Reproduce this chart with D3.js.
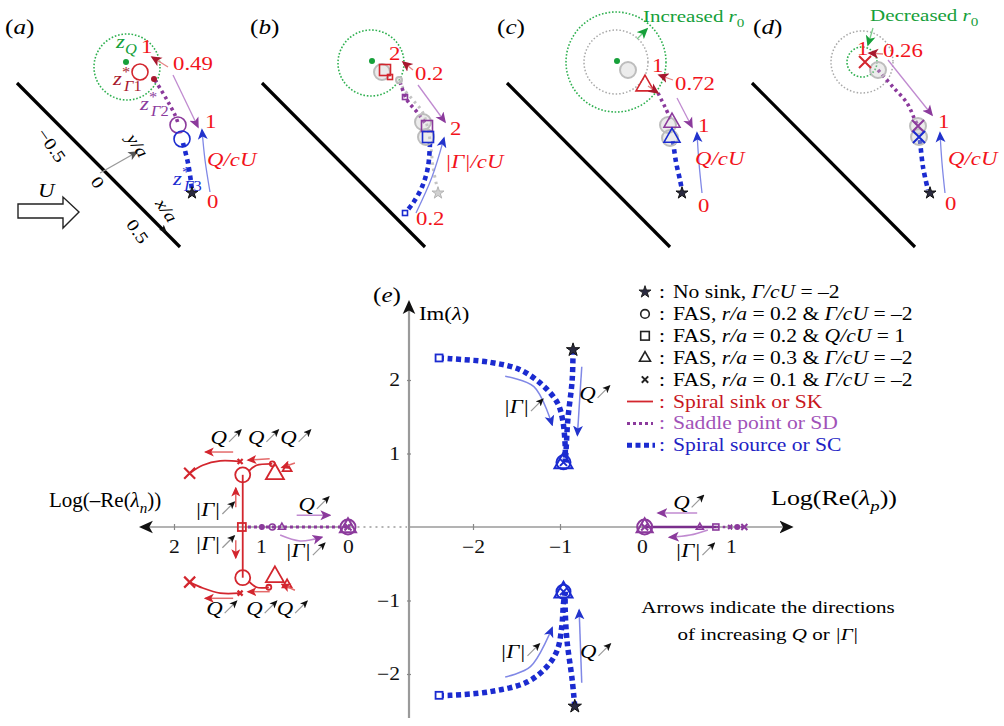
<!DOCTYPE html>
<html>
<head>
<meta charset="utf-8">
<script src="https://cdn.jsdelivr.net/npm/d3@7"></script>
<style>
body { margin: 0; background: #fff; }
svg text { font-family: "Liberation Serif", "Times New Roman", serif; }
</style>
</head>
<body>
<svg id="fig" width="1004" height="726"></svg>
<script>
// colours
const RED = "#f2131b", SK = "#d3262e", DRED = "#a8182e";
const PURP = "#8b3a9c", LPURP = "#c08ad0";
const BLUE = "#1b2bd0", LBLUE = "#8088e6";
const GREEN = "#16a03a", GRAY = "#b4b4b4";
const SX = 1.2; // the printed type is a little wider than plain Times

// ================= top panels (a)-(d), units of the wall frame =================
const PANEL_DX = 245;
const wall = [[-0.82, 0.82], [0.81, -0.82]];
const r0Center = [[0.28, 0.98], [0.27, 1.02], [0.27, 1.03], [0.28, 1.03]];
const r0Green = [0.33, 0.33, 0.50, 0.15];
const r0Gray = [null, null, 0.32, 0.31];
const sdPaths = [
  [[0.56, 0.85], [0.68, 0.65], [0.76, 0.50], [0.79, 0.42]],
  [[0.56, 0.83], [0.63, 0.65], [0.73, 0.53], [0.81, 0.42]],
  [[0.69, 0.72], [0.76, 0.58], [0.83, 0.43]],
  [[0.44, 0.95], [0.59, 0.78], [0.73, 0.62], [0.81, 0.45], [0.84, 0.39]]
];
const scPaths = [
  [[0.84, 0.22], [0.89, 0.02], [0.92, -0.17], [0.93, -0.25]],
  [[0.86, 0.22], [0.84, -0.02], [0.78, -0.22], [0.69, -0.38], [0.62, -0.47]],
  [[0.84, 0.24], [0.87, 0.03], [0.91, -0.15], [0.93, -0.25]],
  [[0.86, 0.25], [0.89, -0.02], [0.94, -0.25]]
];
const ghostPaths = [
  null,
  [[0.56, 0.85], [0.59, 0.77], [0.69, 0.65], [0.79, 0.52], [0.86, 0.25], [0.89, -0.02], [0.93, -0.22]],
  null, null
];
const skArrows = [
  [[0.69, 0.98], [0.53, 1.08]],
  [[0.69, 0.95], [0.59, 1.03]],
  [[0.84, 0.85], [0.70, 0.90]],
  [[0.49, 1.11], [0.35, 1.12]]
];
const sdArrows = [
  [[0.74, 0.90], [0.99, 0.38]],
  [[0.74, 0.80], [1.01, 0.43]],
  [[0.88, 0.67], [1.03, 0.38]],
  [[0.54, 1.05], [0.98, 0.50]]
];
const qArrows = [
  [[1.11, -0.27], [1.06, 0.05], [1.03, 0.35]],
  [[0.72, -0.48], [0.88, -0.12], [1.00, 0.27]],
  [[1.13, -0.28], [1.10, 0.02], [1.08, 0.32]],
  [[1.11, -0.28], [1.08, 0.02], [1.06, 0.32]]
];
const r0Arrows = [null, null, [[0.48, 1.26], [0.58, 1.36]], [[0.39, 1.37], [0.34, 1.20]]];
const extraArrows = [null, null, [[0.59, 0.79], [0.69, 0.72]], null];

const panelMarks = [
  [
    { s: "dot", p: [0.27, 1.03], c: GREEN },
    { s: "circle", p: [0.41, 0.93], c: SK, r: 8 },
    { s: "dot", p: [0.55, 0.86], c: DRED },
    { s: "circle", p: [0.79, 0.40], c: PURP, r: 8 },
    { s: "circle", p: [0.83, 0.26], c: BLUE, r: 8 },
    { s: "star", p: [0.93, -0.28], c: "#111" }
  ],
  [
    { s: "dot", p: [0.28, 1.04], c: GREEN },
    { s: "ghost", p: [0.38, 0.93], r: 8 },
    { s: "ghost", p: [0.55, 0.85], r: 3 },
    { s: "ghost", p: [0.79, 0.43], r: 8 },
    { s: "ghost", p: [0.82, 0.28], r: 8 },
    { s: "square", p: [0.41, 0.95], c: SK, r: 5.5 },
    { s: "square", p: [0.46, 0.88], c: SK, r: 2.5 },
    { s: "square", p: [0.61, 0.68], c: PURP, r: 2.5 },
    { s: "square", p: [0.83, 0.39], c: PURP, r: 5.5 },
    { s: "square", p: [0.84, 0.28], c: BLUE, r: 5.5 },
    { s: "square", p: [0.61, -0.48], c: BLUE, r: 2.5 },
    { s: "star", p: [0.94, -0.28], c: GRAY }
  ],
  [
    { s: "dot", p: [0.28, 1.04], c: GREEN },
    { s: "ghost", p: [0.39, 0.95], r: 8 },
    { s: "ghost", p: [0.79, 0.40], r: 8 },
    { s: "ghost", p: [0.81, 0.27], r: 8 },
    { s: "tri", p: [0.56, 0.80], c: SK, r: 9 },
    { s: "tri", p: [0.83, 0.43], c: PURP, r: 8 },
    { s: "tri", p: [0.83, 0.28], c: BLUE, r: 8 },
    { s: "star", p: [0.93, -0.28], c: "#111" }
  ],
  [
    { s: "ghost", p: [0.44, 0.95], r: 8 },
    { s: "ghost", p: [0.84, 0.39], r: 8 },
    { s: "ghost", p: [0.85, 0.28], r: 8 },
    { s: "x", p: [0.31, 1.03], c: SK, r: 6 },
    { s: "x", p: [0.84, 0.39], c: PURP, r: 6 },
    { s: "x", p: [0.85, 0.28], c: BLUE, r: 6 },
    { s: "star", p: [0.96, -0.28], c: "#111" }
  ]
];

const zSup = sub => [["z", "i"], ["*", "sup"], ["Γ", "isub", -5], [sub, "sub"]];
const panelLabels = [
  [
    { p: [-0.94, 1.31], t: [["("], ["a", "i"], [")"]], c: "#000", fs: 21 },
    { p: [0.17, 1.17], t: [["z", "i"], ["Q", "isub"]], c: GREEN, fs: 19 },
    { p: [0.42, 1.12], t: [["1"]], c: RED, fs: 19 },
    { p: [0.74, 0.95], t: [["0.49"]], c: RED, fs: 19 },
    { p: [0.14, 0.80], t: zSup("1"), c: DRED, fs: 19 },
    { p: [0.41, 0.55], t: zSup("2"), c: PURP, fs: 19 },
    { p: [1.06, 0.37], t: [["1"]], c: RED, fs: 19 },
    { p: [1.08, -0.01], t: [["Q/cU", "i"]], c: RED, fs: 19 },
    { p: [0.74, -0.20], t: zSup("3"), c: BLUE, fs: 19 },
    { p: [1.08, -0.43], t: [["0"]], c: RED, fs: 19 },
    { p: [-0.61, -0.32], t: [["U", "i"]], c: "#000", fs: 19 }
  ],
  [
    { p: [-0.94, 1.31], t: [["("], ["b", "i"], [")"]], c: "#000", fs: 21 },
    { p: [0.45, 1.05], t: [["2"]], c: RED, fs: 19 },
    { p: [0.71, 0.85], t: [["0.2"]], c: RED, fs: 19 },
    { p: [1.06, 0.30], t: [["2"]], c: RED, fs: 19 },
    { p: [1.01, -0.03], t: [["|Γ|/cU", "i"]], c: RED, fs: 19 },
    { p: [0.72, -0.60], t: [["0.2"]], c: RED, fs: 19 }
  ],
  [
    { p: [-0.92, 1.31], t: [["("], ["c", "i"], [")"]], c: "#000", fs: 21 },
    { p: [0.54, 1.43], t: [["Increased "], ["r", "i"], ["0", "sub"]], c: GREEN, fs: 17.5 },
    { p: [0.63, 0.93], t: [["1"]], c: RED, fs: 19 },
    { p: [0.86, 0.75], t: [["0.72"]], c: RED, fs: 19 },
    { p: [1.09, 0.33], t: [["1"]], c: RED, fs: 19 },
    { p: [1.06, 0.00], t: [["Q/cU", "i"]], c: RED, fs: 19 },
    { p: [1.09, -0.47], t: [["0"]], c: RED, fs: 19 }
  ],
  [
    { p: [-0.81, 1.31], t: [["("], ["d", "i"], [")"]], c: "#000", fs: 21 },
    { p: [0.36, 1.44], t: [["Decreased "], ["r", "i"], ["0", "sub"]], c: GREEN, fs: 17.5 },
    { p: [0.23, 1.10], t: [["1"]], c: RED, fs: 19 },
    { p: [0.49, 1.08], t: [["0.26"]], c: RED, fs: 19 },
    { p: [1.04, 0.37], t: [["1"]], c: RED, fs: 19 },
    { p: [1.14, 0.00], t: [["Q/cU", "i"]], c: RED, fs: 19 },
    { p: [1.11, -0.45], t: [["0"]], c: RED, fs: 19 }
  ]
];
// wall coordinate labels of panel (a), rotated along the wall
const wallLabels = [
  { p: [-0.47, 0.20], t: [["−0.5"]] }, { p: [-0.01, -0.17], t: [["0"]] }, { p: [0.39, -0.66], t: [["0.5"]] },
  { p: [0.39, 0.20], t: [["y/a", "i"]] }, { p: [0.68, -0.45], t: [["x/a", "i"]] }
];
const yArrow = [[0.01, -0.08], [0.38, 0.13]];
const xArrow = [[0.51, -0.51], [0.67, -0.67]];
const flowArrow = [[-0.81, -0.39], [-0.36, -0.39], [-0.36, -0.32], [-0.20, -0.47], [-0.36, -0.63], [-0.36, -0.53], [-0.81, -0.53]];

// ================= panel (e): eigenvalues =================
// spiral source, [Re λ, Im λ]
const scGammaUp = [[-2.39, 2.30], [-2.26, 2.29], [-1.80, 2.24], [-1.46, 2.14], [-1.20, 1.93], [-1.03, 1.69], [-0.97, 1.46], [-0.94, 1.09], [-0.94, 0.88]];
const scGammaDn = [[-2.39, -2.29], [-2.26, -2.29], [-1.80, -2.24], [-1.38, -2.11], [-1.15, -1.90], [-1.03, -1.67], [-0.98, -1.36], [-0.96, -1.04], [-0.94, -0.88]];
const scQUp = [[-0.85, 2.41], [-0.86, 2.00], [-0.91, 1.46], [-0.93, 1.05], [-0.94, 0.88]];
const scQDn = [[-0.83, -2.44], [-0.86, -2.08], [-0.92, -1.54], [-0.94, -1.13], [-0.94, -0.88]];
const scCluster = [[-0.96, 0.88], [-0.96, -0.88]];
const scArrows = [
  [[-1.63, 2.05], [-1.30, 1.91], [-1.09, 1.39]],
  [[-0.75, 2.18], [-0.80, 1.25]],
  [[-1.63, -2.04], [-1.34, -1.90], [-1.09, -1.37]],
  [[-0.75, -2.12], [-0.78, -1.13]]
];
const scQLabels = [[-0.78, 1.73], [-0.77, -1.78]];
const scGLabels = [[-1.65, 1.55], [-1.69, -1.78]];

// spiral sink, [Log(-Re λn), Im λ]
const skStem = [[1.21, 0.71], [1.21, -0.69]];
const skXUp = [[1.82, 0.73], [1.67, 0.84], [1.47, 0.90], [1.24, 0.89]];
const skXDn = [[1.82, -0.75], [1.67, -0.83], [1.47, -0.90], [1.24, -0.90]];
const skTriUp = [[1.14, 0.76], [1.05, 0.84], [0.87, 0.86]];
const skTriDn = [[1.14, -0.74], [1.05, -0.82], [0.91, -0.82]];
const skMarksE = [
  { s: "x", p: [1.82, 0.73], r: 5.5 }, { s: "x", p: [1.82, -0.75], r: 5.5 },
  { s: "x", p: [1.24, 0.89], r: 2.5 }, { s: "x", p: [1.24, -0.90], r: 2.5 },
  { s: "circle", p: [1.21, 0.71], r: 7.5 }, { s: "circle", p: [1.21, -0.69], r: 7.5 },
  { s: "circle", p: [0.87, 0.86], r: 2.5 }, { s: "circle", p: [0.91, -0.82], r: 2.5 },
  { s: "tri", p: [0.84, 0.73], r: 9 }, { s: "tri", p: [0.84, -0.67], r: 9 },
  { s: "tri", p: [0.70, 0.80], r: 4.5 }, { s: "tri", p: [0.70, -0.78], r: 4.5 },
  { s: "square", p: [1.22, 0], r: 4 }
];
const skArrowsE = [
  [[1.32, 1.02], [1.64, 1.02]], [[0.90, 0.93], [1.15, 0.91]], [[0.61, 0.87], [0.76, 0.81]],
  [[1.32, -0.97], [1.64, -0.97]], [[0.90, -0.88], [1.15, -0.88]], [[0.61, -0.86], [0.76, -0.78]],
  [[1.29, 0.27], [1.29, 0.53]], [[1.29, -0.18], [1.29, -0.42]]
];
const skQLabels = [[1.58, 1.13], [1.15, 1.13], [0.78, 1.13], [1.63, -1.20], [1.17, -1.20], [0.82, -1.20]];
const skGLabels = [[1.76, 0.15], [1.76, -0.31]];

// saddle point, left [Log(-Re λn), 0] and right [Log(Re λp), 0]
const sdLeft = [[1.15, 0], [0.0, 0]];
const sdLeftMarks = [{ s: "dot", p: [0.99, 0] }, { s: "circle", p: [0.87, 0], r: 3 }, { s: "tri", p: [0.76, 0], r: 3.5 }];
const sdLeftArrows = [[[0.59, 0.16], [0.21, 0.16]], [[0.78, -0.11], [0.55, -0.19], [0.30, -0.14]]];
const sdRightSolid = [[0.03, 0], [0.84, 0]];
const sdRightDot = [[0.84, 0], [1.15, 0]];
const sdRightMarks = [{ s: "tri", p: [0.65, 0], r: 3.5 }, { s: "square", p: [0.83, 0], r: 3 }, { s: "x", p: [0.99, 0], r: 2 }, { s: "dot", p: [1.07, 0] }, { s: "x", p: [1.15, 0], r: 3 }];
const sdRightArrows = [[[0.62, 0.19], [0.18, 0.19]], [[0.74, -0.04], [0.54, -0.11], [0.31, -0.14]]];
const sdCluster = { left: [0, 0], right: [0.03, 0] };
const sdQLabels = { left: [0.57, 0.22], right: [0.35, 0.24] };
const sdGLabels = { left: [0.72, -0.41], right: [0.37, -0.41] };

// legend
const legendItems = [
  { s: "star", t: [["No sink, "], ["Γ/cU", "i"], [" = –2"]] },
  { s: "circle", t: [["FAS, "], ["r/a", "i"], [" = 0.2 & "], ["Γ/cU", "i"], [" = –2"]] },
  { s: "square", t: [["FAS, "], ["r/a", "i"], [" = 0.2 & "], ["Q/cU", "i"], [" = 1"]] },
  { s: "tri", t: [["FAS, "], ["r/a", "i"], [" = 0.3 & "], ["Γ/cU", "i"], [" = –2"]] },
  { s: "x", t: [["FAS, "], ["r/a", "i"], [" = 0.1 & "], ["Γ/cU", "i"], [" = –2"]] },
  { s: "lineSK", t: [["Spiral sink or SK"]], c: "#c8161e" },
  { s: "lineSD", t: [["Saddle point or SD"]], c: "#a152b8" },
  { s: "lineSC", t: [["Spiral source or SC"]], c: "#2222c4" }
];

// ================= drawing helpers =================
const svg = d3.select("#fig");
const defs = svg.append("defs");
function headMarker(id, color, size) {
  defs.append("marker").attr("id", id).attr("viewBox", "0 0 10 10")
    .attr("refX", 8.5).attr("refY", 5).attr("markerWidth", size).attr("markerHeight", size)
    .attr("markerUnits", "userSpaceOnUse").attr("orient", "auto")
    .append("path").attr("d", "M0,0.5 L10,5 L0,9.5 L2.5,5 Z").attr("fill", color);
}
headMarker("hDred", DRED, 11);
headMarker("hPurp", PURP, 11);
headMarker("hBlue", "#2233cc", 11);
headMarker("hGreen", GREEN, 11);
headMarker("hRed", SK, 10);
headMarker("hBlack", "#111", 14);
headMarker("hSmall", "#111", 8);
headMarker("hGray", "#555", 10);

// text drawn at the origin, then moved and widened
function rich(g, x, y, parts, o = {}) {
  const fs = o.fs || 18;
  const t = g.append("text").attr("x", 0).attr("y", 0)
    .attr("transform", `translate(${x},${y})${o.rot ? ` rotate(${o.rot})` : ""} scale(${o.sx || SX},1)`)
    .attr("font-size", fs).attr("fill", o.c || "#000")
    .attr("text-anchor", o.anchor || "start");
  if (o.central) t.attr("dominant-baseline", "central");
  let off = 0;
  parts.forEach(p => {
    const [s, st = "", dx = 0] = p;
    const sp = t.append("tspan").text(s);
    let target = 0;
    if (st.includes("sub")) target = 0.3 * fs;
    if (st.includes("sup")) target = -0.42 * fs;
    if (target !== off) { sp.attr("dy", target - off); off = target; }
    if (target !== 0) sp.attr("font-size", fs * 0.72);
    if (st.startsWith("i")) sp.attr("font-style", "italic");
    if (dx) sp.attr("dx", dx);
  });
  return t;
}

function mark(g, s, x, y, c, o = {}) {
  const r = o.r || 6, sw = o.sw || 1.6;
  if (s === "dot") return g.append("circle").attr("cx", x).attr("cy", y).attr("r", o.r || 3).attr("fill", c);
  if (s === "ghost") return g.append("circle").attr("cx", x).attr("cy", y).attr("r", r)
    .attr("fill", "rgba(200,200,200,0.35)").attr("stroke", "#bdbdbd").attr("stroke-width", 2);
  if (s === "circle") return g.append("circle").attr("cx", x).attr("cy", y).attr("r", r)
    .attr("fill", o.fill || "none").attr("stroke", c).attr("stroke-width", sw);
  if (s === "square") return g.append("rect").attr("x", x - r).attr("y", y - r).attr("width", 2 * r).attr("height", 2 * r)
    .attr("fill", o.fill || "none").attr("stroke", c).attr("stroke-width", sw);
  if (s === "tri") return g.append("path").attr("d", `M${x},${y - r * 1.1}L${x + r},${y + r * 0.65}L${x - r},${y + r * 0.65}Z`)
    .attr("fill", "none").attr("stroke", c).attr("stroke-width", sw);
  if (s === "x") return g.append("path").attr("d", `M${x - r},${y - r}L${x + r},${y + r}M${x - r},${y + r}L${x + r},${y - r}`)
    .attr("stroke", c).attr("stroke-width", sw + 0.4);
  if (s === "star") return g.append("path").attr("d", d3.symbol(d3.symbolStar, o.size || 45)())
    .attr("transform", `translate(${x},${y})`).attr("fill", c === GRAY ? "#d0d0d0" : "#2a2a40")
    .attr("stroke", c).attr("stroke-width", 1);
}

function incLabel(g, x, y, txt, fs = 19) {
  const t = rich(g, x, y, [[txt, "i"]], { fs });
  const w = t.node().getComputedTextLength() * SX;
  g.append("line").attr("x1", x + w + 2).attr("y1", y - 2).attr("x2", x + w + 14).attr("y2", y - 14)
    .attr("stroke", "#999").attr("stroke-width", 1.2).attr("marker-end", "url(#hSmall)");
}

// ================= panels (a)-(d) =================
panelMarks.forEach((marks, i) => {
  const ox = 99 + PANEL_DX * i;
  const sx = d3.scaleLinear().domain([0, 1]).range([ox, ox + 100]);
  const sy = d3.scaleLinear().domain([0, 1]).range([165, 65]);
  const line = d3.line().x(d => sx(d[0])).y(d => sy(d[1])).curve(d3.curveCatmullRom.alpha(0.5));
  const g = svg.append("g").attr("class", "panel");
  const unit = sx(1) - sx(0);

  g.append("path").attr("d", line(wall)).attr("stroke", "#000").attr("stroke-width", 3.2).attr("fill", "none");

  const c0 = r0Center[i];
  if (r0Gray[i]) g.append("circle").attr("cx", sx(c0[0])).attr("cy", sy(c0[1])).attr("r", r0Gray[i] * unit)
    .attr("fill", "none").attr("stroke", "#a8a8a8").attr("stroke-width", 1.5).attr("stroke-dasharray", "1.5,2");
  g.append("circle").attr("cx", sx(c0[0])).attr("cy", sy(c0[1])).attr("r", r0Green[i] * unit)
    .attr("fill", "none").attr("stroke", "#2fb050").attr("stroke-width", 1.6).attr("stroke-dasharray", "1.6,1.8");

  if (ghostPaths[i]) g.append("path").attr("d", line(ghostPaths[i])).attr("fill", "none")
    .attr("stroke", "#c4c4c4").attr("stroke-width", 3).attr("stroke-dasharray", "2.5,4");

  g.append("path").attr("d", line(sdPaths[i])).attr("fill", "none")
    .attr("stroke", PURP).attr("stroke-width", 3.6).attr("stroke-dasharray", "3,3.4");
  g.append("path").attr("d", line(scPaths[i])).attr("fill", "none")
    .attr("stroke", BLUE).attr("stroke-width", 4.6).attr("stroke-dasharray", "4.5,3.8");

  marks.forEach(m => mark(g, m.s, sx(m.p[0]), sy(m.p[1]), m.c, { r: m.r }));

  g.append("path").attr("d", line(skArrows[i])).attr("fill", "none").attr("stroke", "#e58585")
    .attr("stroke-width", 1.3).attr("marker-end", "url(#hDred)");
  g.append("path").attr("d", line(sdArrows[i])).attr("fill", "none").attr("stroke", LPURP)
    .attr("stroke-width", 1.3).attr("marker-end", "url(#hPurp)");
  g.append("path").attr("d", line(qArrows[i])).attr("fill", "none").attr("stroke", LBLUE)
    .attr("stroke-width", 1.3).attr("marker-end", "url(#hBlue)");
  if (r0Arrows[i]) g.append("path").attr("d", line(r0Arrows[i])).attr("fill", "none").attr("stroke", "#7acb8a")
    .attr("stroke-width", 1.3).attr("marker-end", "url(#hGreen)");
  if (extraArrows[i]) g.append("path").attr("d", line(extraArrows[i])).attr("fill", "none").attr("stroke", "#e58585")
    .attr("stroke-width", 1.3).attr("marker-end", "url(#hDred)");

  panelLabels[i].forEach(l => rich(g, sx(l.p[0]), sy(l.p[1]), l.t, { c: l.c, fs: l.fs }));

  if (i === 0) {
    g.append("path").attr("d", d3.line().x(d => sx(d[0])).y(d => sy(d[1])).curve(d3.curveLinearClosed)(flowArrow))
      .attr("fill", "#fff").attr("stroke", "#222").attr("stroke-width", 1.4);
    g.append("path").attr("d", line(yArrow)).attr("stroke", "#999").attr("stroke-width", 1.3).attr("marker-end", "url(#hGray)");
    g.append("path").attr("d", line(xArrow)).attr("stroke", "#000").attr("stroke-width", 1).attr("marker-end", "url(#hSmall)");
    wallLabels.forEach(l => rich(g, sx(l.p[0]), sy(l.p[1]), l.t,
      { fs: 17, anchor: "middle", central: true, rot: 55 }));
  }
});

// ================= panel (e) =================
const xL = d3.scaleLinear().domain([0, 2]).range([348, 174]);   // Log(-Re λn)
const xM = d3.scaleLinear().domain([-2, -1]).range([473, 560]); // Re λ
const xR = d3.scaleLinear().domain([0, 1]).range([642, 731]);   // Log(Re λp)
const yI = d3.scaleLinear().domain([-2, 2]).range([674, 380]);  // Im λ
const lineFor = xs => d3.line().x(d => xs(d[0])).y(d => yI(d[1])).curve(d3.curveCatmullRom.alpha(0.5));
const lM = lineFor(xM), lL = lineFor(xL), lR = lineFor(xR);
const ge = svg.append("g").attr("class", "panel-e");

// axes
const y0 = yI(0);
ge.append("line").attr("x1", xL(-0.04)).attr("y1", y0).attr("x2", xL(2.38)).attr("y2", y0)
  .attr("stroke", "#9a9a9a").attr("stroke-width", 1.6).attr("marker-end", "url(#hBlack)");
ge.append("line").attr("x1", xL(-0.04)).attr("y1", y0).attr("x2", 407).attr("y2", y0)
  .attr("stroke", "#9a9a9a").attr("stroke-width", 1.6).attr("stroke-dasharray", "2,4");
ge.append("line").attr("x1", 409).attr("y1", y0).attr("x2", xR(1.68)).attr("y2", y0)
  .attr("stroke", "#9a9a9a").attr("stroke-width", 1.6).attr("marker-end", "url(#hBlack)");
ge.append("line").attr("x1", 409).attr("y1", yI(-2.6)).attr("x2", 409).attr("y2", yI(3.06))
  .attr("stroke", "#9a9a9a").attr("stroke-width", 2.2).attr("marker-end", "url(#hBlack)");

function styleAxis(g, vertical) {
  g.select(".domain").remove();
  g.selectAll(".tick line").attr("stroke", "#888").attr("stroke-width", 1.2);
  if (vertical) g.selectAll(".tick line").attr("x1", -2).attr("x2", 2);
  else g.selectAll(".tick line").attr("y1", -3).attr("y2", 3);
  g.selectAll("text").attr("font-size", 18).attr("fill", "#111")
    .attr("font-family", '"Liberation Serif","Times New Roman",serif');
  g.selectAll(".tick text").each(function () {
    const t = d3.select(this);
    const x = +t.attr("x") || 0, y = +t.attr("y") || 0;
    t.attr("x", 0).attr("y", 0).attr("transform", `translate(${x},${y}) scale(${SX},1)`);
  });
}
[[xL, [0, 1, 2]], [xM, [-2, -1]], [xR, [0, 1]]].forEach(([sc, tv]) => {
  ge.append("g").attr("transform", `translate(0,${y0})`)
    .call(d3.axisBottom(sc).tickValues(tv).tickSize(3).tickPadding(10).tickFormat(d3.format("d")))
    .call(g => styleAxis(g, false));
});
ge.append("g").attr("transform", "translate(409,0)")
  .call(d3.axisLeft(yI).tickValues([-2, -1, 1, 2]).tickSize(3).tickPadding(6).tickFormat(d3.format("d")))
  .call(g => styleAxis(g, true));

rich(ge, 419, 320, [["Im("], ["λ", "i"], [")"]], { fs: 19 });
rich(ge, 49, 507, [["Log(–Re("], ["λ", "i"], ["n", "isub"], ["))"]], { fs: 20, sx: 1.05 });
rich(ge, 771, 505, [["Log(Re("], ["λ", "i"], ["p", "isub"], ["))"]], { fs: 20, sx: 1.3 });
rich(ge, 373, 302, [["("], ["e", "i"], [")"]], { fs: 21 });

// saddle point (purple)
ge.append("path").attr("d", lL(sdLeft)).attr("fill", "none").attr("stroke", PURP)
  .attr("stroke-width", 3).attr("stroke-dasharray", "3,3");
sdLeftMarks.forEach(m => mark(ge, m.s, xL(m.p[0]), yI(m.p[1]), PURP, { r: m.r }));
ge.append("path").attr("d", lR(sdRightSolid)).attr("fill", "none").attr("stroke", "#7a2f8c").attr("stroke-width", 2.6);
ge.append("path").attr("d", lR(sdRightDot)).attr("fill", "none").attr("stroke", PURP)
  .attr("stroke-width", 2.4).attr("stroke-dasharray", "2.5,3.5");
sdRightMarks.forEach(m => mark(ge, m.s, xR(m.p[0]), yI(m.p[1]), PURP, { r: m.r }));
[[xL, sdCluster.left], [xR, sdCluster.right]].forEach(([xs, p]) => {
  mark(ge, "circle", xs(p[0]), yI(p[1]), PURP, { r: 7.5, sw: 2 });
  mark(ge, "tri", xs(p[0]), yI(p[1]), PURP, { r: 8, sw: 2 });
  mark(ge, "x", xs(p[0]), yI(p[1]), PURP, { r: 3.5, sw: 1.6 });
});
sdLeftArrows.forEach(a => ge.append("path").attr("d", lL(a)).attr("fill", "none").attr("stroke", LPURP)
  .attr("stroke-width", 1.6).attr("marker-end", "url(#hPurp)"));
sdRightArrows.forEach(a => ge.append("path").attr("d", lR(a)).attr("fill", "none").attr("stroke", LPURP)
  .attr("stroke-width", 1.6).attr("marker-end", "url(#hPurp)"));
incLabel(ge, xL(sdQLabels.left[0]), yI(sdQLabels.left[1]), "Q");
incLabel(ge, xL(sdGLabels.left[0]), yI(sdGLabels.left[1]), "|Γ|");
incLabel(ge, xR(sdQLabels.right[0]), yI(sdQLabels.right[1]), "Q");
incLabel(ge, xR(sdGLabels.right[0]), yI(sdGLabels.right[1]), "|Γ|");

// spiral sink (red)
[skStem, skXUp, skXDn, skTriUp, skTriDn].forEach(d => ge.append("path").attr("d", lL(d))
  .attr("fill", "none").attr("stroke", SK).attr("stroke-width", 1.8));
skMarksE.forEach(m => mark(ge, m.s, xL(m.p[0]), yI(m.p[1]), SK, { r: m.r, sw: 1.8 }));
skArrowsE.forEach(a => ge.append("path").attr("d", lL(a)).attr("fill", "none").attr("stroke", "#e46a6a")
  .attr("stroke-width", 1.5).attr("marker-end", "url(#hRed)"));
skQLabels.forEach(p => incLabel(ge, xL(p[0]), yI(p[1]), "Q"));
skGLabels.forEach(p => incLabel(ge, xL(p[0]), yI(p[1]), "|Γ|"));

// spiral source (blue)
[scGammaUp, scGammaDn, scQUp, scQDn].forEach(d => ge.append("path").attr("d", lM(d))
  .attr("fill", "none").attr("stroke", BLUE).attr("stroke-width", 5.5).attr("stroke-dasharray", "5,3.6"));
[scGammaUp[0], scGammaDn[0]].forEach(p => mark(ge, "square", xM(p[0]), yI(p[1]), BLUE, { r: 3.5, sw: 1.8, fill: "#fff" }));
[scQUp[0], scQDn[0]].forEach(p => mark(ge, "star", xM(p[0]), yI(p[1]), "#111", { size: 55 }));
scCluster.forEach(p => {
  const x = xM(p[0]), y = yI(p[1]);
  mark(ge, "tri", x, y, BLUE, { r: 9, sw: 2 });
  mark(ge, "circle", x, y, BLUE, { r: 7, sw: 2 });
  mark(ge, "x", x, y, BLUE, { r: 3.5, sw: 1.5 });
});
scArrows.forEach(a => ge.append("path").attr("d", lM(a)).attr("fill", "none").attr("stroke", LBLUE)
  .attr("stroke-width", 1.5).attr("marker-end", "url(#hBlue)"));
scQLabels.forEach(p => incLabel(ge, xM(p[0]), yI(p[1]), "Q"));
scGLabels.forEach(p => incLabel(ge, xM(p[0]), yI(p[1]), "|Γ|"));

// legend
const lg = svg.append("g").attr("class", "legend");
legendItems.forEach((it, k) => {
  const cy = 292 + k * 21.9;
  if (it.s === "lineSK") lg.append("line").attr("x1", 627).attr("x2", 653).attr("y1", cy).attr("y2", cy)
    .attr("stroke", SK).attr("stroke-width", 1.8);
  else if (it.s === "lineSD") lg.append("line").attr("x1", 627).attr("x2", 653).attr("y1", cy).attr("y2", cy)
    .attr("stroke", PURP).attr("stroke-width", 3).attr("stroke-dasharray", "3,3");
  else if (it.s === "lineSC") lg.append("line").attr("x1", 627).attr("x2", 655).attr("y1", cy).attr("y2", cy)
    .attr("stroke", BLUE).attr("stroke-width", 5).attr("stroke-dasharray", "5,3.5");
  else mark(lg, it.s, 645, cy, "#222", { r: it.s === "x" ? 3.2 : it.s === "tri" ? 5.5 : 4.3, sw: 1.6, size: 45 });
  rich(lg, 659, cy + 6, [[":"]], { fs: 18, c: it.c || "#000" });
  rich(lg, 673, cy + 6, it.t, { fs: 18, c: it.c || "#000" });
});

rich(svg, 768, 613, [["Arrows indicate the directions"]], { fs: 17.5, anchor: "middle" });
rich(svg, 768, 640, [["of increasing "], ["Q", "i"], [" or  "], ["|Γ|", "i"]], { fs: 17.5, anchor: "middle" });
</script>
</body>
</html>
